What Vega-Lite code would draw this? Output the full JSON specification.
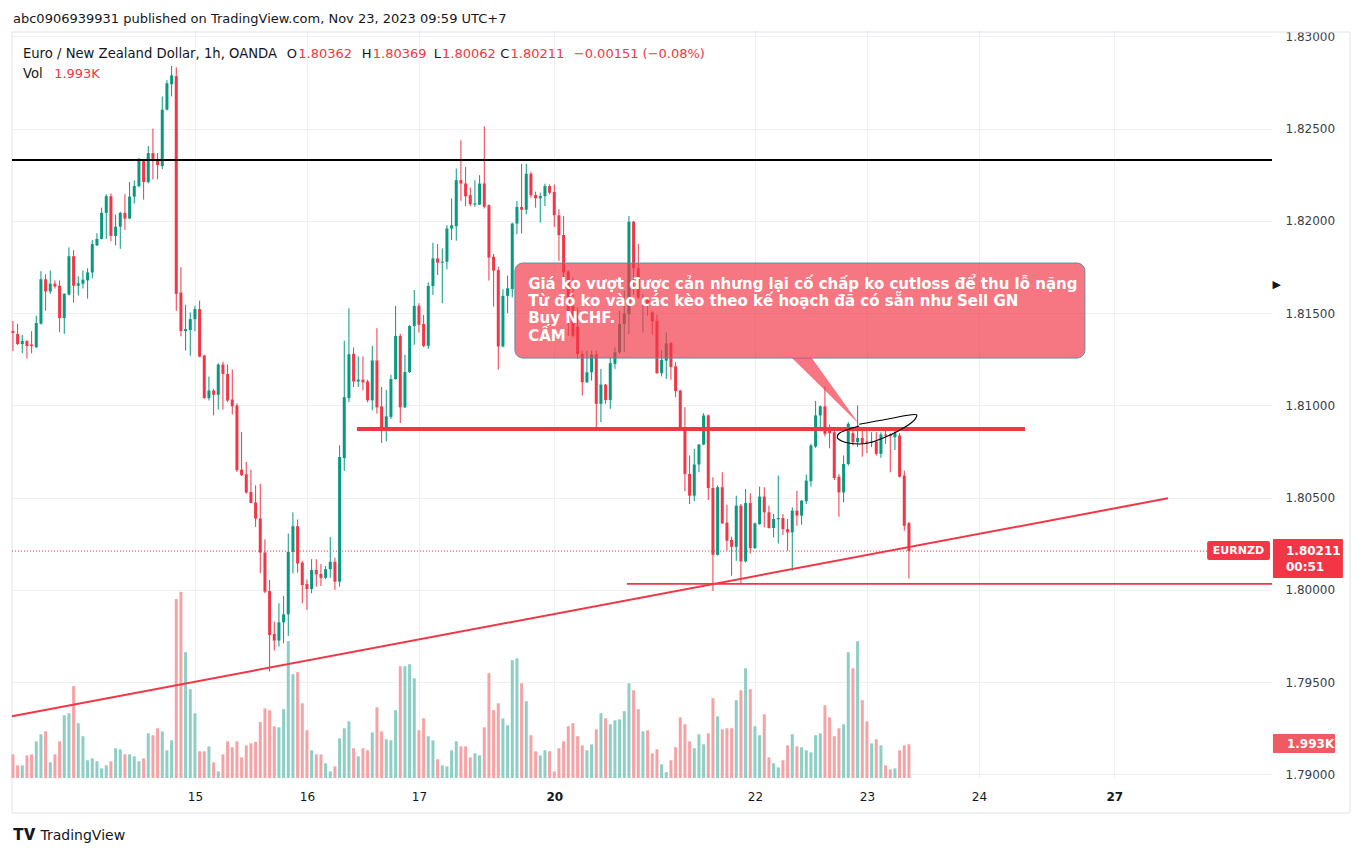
{
  "$schema": "https://vega.github.io/schema/vega-lite/v6.json",
  "width": 1260,
  "height": 748,
  "autosize": "none",
  "padding": {"left": 12, "top": 30, "right": 91, "bottom": 79},
  "background": "white",
  "config": {"view": {"stroke": null}, "font": "DejaVu Sans"},
  "title": {"text": "abc0906939931 published on TradingView.com, Nov 23, 2023 09:59 UTC+7", "anchor": "start", "frame": "group", "offset": 7, "baseline": "alphabetic", "font": "DejaVu Sans", "fontSize": 13, "fontWeight": "normal", "color": "#131722", "dx": 1, "dy": 13},
  "datasets": {
    "candles": [
      {"i":-39,"o":1.81403,"h":1.81458,"l":1.81294,"c":1.81393,"v":1.40},
      {"i":-38,"o":1.81388,"h":1.81443,"l":1.81327,"c":1.81333,"v":0.75},
      {"i":-37,"o":1.81333,"h":1.81382,"l":1.81283,"c":1.81349,"v":0.75},
      {"i":-36,"o":1.81349,"h":1.81355,"l":1.81254,"c":1.81322,"v":1.34},
      {"i":-35,"o":1.81330,"h":1.81403,"l":1.81283,"c":1.81322,"v":1.40},
      {"i":-34,"o":1.81316,"h":1.81487,"l":1.81312,"c":1.81447,"v":2.17},
      {"i":-33,"o":1.81443,"h":1.81728,"l":1.81439,"c":1.81684,"v":2.59},
      {"i":-32,"o":1.81684,"h":1.81711,"l":1.81513,"c":1.81618,"v":2.76},
      {"i":-31,"o":1.81618,"h":1.81732,"l":1.81605,"c":1.81660,"v":0.93},
      {"i":-30,"o":1.81660,"h":1.81678,"l":1.81634,"c":1.81645,"v":1.40},
      {"i":-29,"o":1.81649,"h":1.81678,"l":1.81397,"c":1.81474,"v":2.17},
      {"i":-28,"o":1.81474,"h":1.81608,"l":1.81388,"c":1.81605,"v":3.71},
      {"i":-27,"o":1.81601,"h":1.81857,"l":1.81596,"c":1.81809,"v":3.83},
      {"i":-26,"o":1.81809,"h":1.81842,"l":1.81557,"c":1.81649,"v":5.43},
      {"i":-25,"o":1.81649,"h":1.81700,"l":1.81596,"c":1.81662,"v":3.24},
      {"i":-24,"o":1.81660,"h":1.81732,"l":1.81634,"c":1.81682,"v":2.47},
      {"i":-23,"o":1.81678,"h":1.81743,"l":1.81579,"c":1.81721,"v":1.05},
      {"i":-22,"o":1.81721,"h":1.81897,"l":1.81689,"c":1.81875,"v":1.16},
      {"i":-21,"o":1.81868,"h":1.81934,"l":1.81864,"c":1.81903,"v":0.99},
      {"i":-20,"o":1.81903,"h":1.82072,"l":1.81900,"c":1.82044,"v":0.57},
      {"i":-19,"o":1.82044,"h":1.82145,"l":1.81903,"c":1.82134,"v":0.75},
      {"i":-18,"o":1.82134,"h":1.82149,"l":1.81890,"c":1.81919,"v":0.99},
      {"i":-17,"o":1.81919,"h":1.82035,"l":1.81868,"c":1.81969,"v":1.76},
      {"i":-16,"o":1.81969,"h":1.82050,"l":1.81849,"c":1.82044,"v":1.70},
      {"i":-15,"o":1.82044,"h":1.82145,"l":1.81952,"c":1.82013,"v":1.40},
      {"i":-14,"o":1.82013,"h":1.82211,"l":1.82010,"c":1.82132,"v":1.40},
      {"i":-13,"o":1.82132,"h":1.82219,"l":1.82094,"c":1.82189,"v":1.28},
      {"i":-12,"o":1.82189,"h":1.82342,"l":1.82182,"c":1.82325,"v":0.99},
      {"i":-11,"o":1.82325,"h":1.82329,"l":1.82116,"c":1.82211,"v":1.16},
      {"i":-10,"o":1.82211,"h":1.82406,"l":1.82204,"c":1.82368,"v":2.64},
      {"i":-9,"o":1.82368,"h":1.82500,"l":1.82226,"c":1.82325,"v":2.53},
      {"i":-8,"o":1.82329,"h":1.82368,"l":1.82226,"c":1.82303,"v":2.94},
      {"i":-7,"o":1.82298,"h":1.82675,"l":1.82281,"c":1.82603,"v":2.76},
      {"i":-6,"o":1.82603,"h":1.82763,"l":1.82599,"c":1.82746,"v":1.64},
      {"i":-5,"o":1.82741,"h":1.82840,"l":1.82675,"c":1.82789,"v":2.23},
      {"i":-4,"o":1.82785,"h":1.82833,"l":1.81513,"c":1.81605,"v":10.58},
      {"i":-3,"o":1.81612,"h":1.81750,"l":1.81375,"c":1.81403,"v":11.01},
      {"i":-2,"o":1.81403,"h":1.81546,"l":1.81297,"c":1.81414,"v":7.44},
      {"i":-1,"o":1.81409,"h":1.81504,"l":1.81270,"c":1.81468,"v":5.25},
      {"i":0,"o":1.81468,"h":1.81540,"l":1.81402,"c":1.81522,"v":3.83},
      {"i":1,"o":1.81522,"h":1.81568,"l":1.81261,"c":1.81265,"v":1.58},
      {"i":2,"o":1.81270,"h":1.81276,"l":1.81036,"c":1.81040,"v":1.58},
      {"i":3,"o":1.81040,"h":1.81157,"l":1.81027,"c":1.81081,"v":1.87},
      {"i":4,"o":1.81081,"h":1.81090,"l":1.80946,"c":1.81058,"v":0.93},
      {"i":5,"o":1.81058,"h":1.81229,"l":1.80978,"c":1.81222,"v":0.39},
      {"i":6,"o":1.81222,"h":1.81238,"l":1.80978,"c":1.81171,"v":1.40},
      {"i":7,"o":1.81171,"h":1.81222,"l":1.81018,"c":1.81027,"v":2.17},
      {"i":8,"o":1.81032,"h":1.81195,"l":1.80951,"c":1.80996,"v":1.82},
      {"i":9,"o":1.81000,"h":1.81012,"l":1.80640,"c":1.80649,"v":2.17},
      {"i":10,"o":1.80652,"h":1.80856,"l":1.80618,"c":1.80622,"v":1.22},
      {"i":11,"o":1.80627,"h":1.80694,"l":1.80522,"c":1.80528,"v":1.93},
      {"i":12,"o":1.80531,"h":1.80652,"l":1.80470,"c":1.80472,"v":2.05},
      {"i":13,"o":1.80474,"h":1.80567,"l":1.80342,"c":1.80387,"v":2.13},
      {"i":14,"o":1.80387,"h":1.80576,"l":1.80090,"c":1.80203,"v":3.32},
      {"i":15,"o":1.80203,"h":1.80274,"l":1.79982,"c":1.79991,"v":4.12},
      {"i":16,"o":1.79994,"h":1.80054,"l":1.79558,"c":1.79756,"v":4.01},
      {"i":17,"o":1.79762,"h":1.79829,"l":1.79672,"c":1.79726,"v":3.06},
      {"i":18,"o":1.79726,"h":1.79928,"l":1.79693,"c":1.79825,"v":3.00},
      {"i":19,"o":1.79825,"h":1.79967,"l":1.79711,"c":1.79868,"v":4.07},
      {"i":20,"o":1.79868,"h":1.80306,"l":1.79751,"c":1.80207,"v":8.09},
      {"i":21,"o":1.80207,"h":1.80420,"l":1.80090,"c":1.80346,"v":6.14},
      {"i":22,"o":1.80346,"h":1.80382,"l":1.80094,"c":1.80144,"v":6.26},
      {"i":23,"o":1.80148,"h":1.80158,"l":1.79928,"c":1.80027,"v":4.42},
      {"i":24,"o":1.80032,"h":1.80057,"l":1.79892,"c":1.80005,"v":2.82},
      {"i":25,"o":1.80005,"h":1.80167,"l":1.79982,"c":1.80108,"v":1.64},
      {"i":26,"o":1.80108,"h":1.80167,"l":1.80018,"c":1.80085,"v":1.40},
      {"i":27,"o":1.80087,"h":1.80140,"l":1.80021,"c":1.80066,"v":1.40},
      {"i":28,"o":1.80066,"h":1.80130,"l":1.80059,"c":1.80113,"v":0.87},
      {"i":29,"o":1.80113,"h":1.80288,"l":1.80066,"c":1.80153,"v":0.39},
      {"i":30,"o":1.80153,"h":1.80175,"l":1.80000,"c":1.80045,"v":0.69},
      {"i":31,"o":1.80045,"h":1.80784,"l":1.80018,"c":1.80721,"v":2.35},
      {"i":32,"o":1.80715,"h":1.81351,"l":1.80645,"c":1.81045,"v":2.94},
      {"i":33,"o":1.81040,"h":1.81527,"l":1.81018,"c":1.81278,"v":3.35},
      {"i":34,"o":1.81280,"h":1.81314,"l":1.81100,"c":1.81130,"v":1.76},
      {"i":35,"o":1.81130,"h":1.81266,"l":1.81100,"c":1.81140,"v":1.28},
      {"i":36,"o":1.81140,"h":1.81266,"l":1.81082,"c":1.81125,"v":1.76},
      {"i":37,"o":1.81130,"h":1.81140,"l":1.81017,"c":1.81028,"v":1.64},
      {"i":38,"o":1.81028,"h":1.81323,"l":1.80974,"c":1.81244,"v":2.70},
      {"i":39,"o":1.81244,"h":1.81419,"l":1.80956,"c":1.80990,"v":4.18},
      {"i":40,"o":1.80995,"h":1.81100,"l":1.80797,"c":1.80866,"v":2.76},
      {"i":41,"o":1.80866,"h":1.81085,"l":1.80806,"c":1.80941,"v":2.29},
      {"i":42,"o":1.80938,"h":1.81167,"l":1.80927,"c":1.81143,"v":2.23},
      {"i":43,"o":1.81143,"h":1.81540,"l":1.81140,"c":1.81377,"v":4.01},
      {"i":44,"o":1.81377,"h":1.81388,"l":1.80905,"c":1.80990,"v":6.61},
      {"i":45,"o":1.80990,"h":1.81275,"l":1.80986,"c":1.81181,"v":6.61},
      {"i":46,"o":1.81181,"h":1.81436,"l":1.81176,"c":1.81431,"v":6.73},
      {"i":47,"o":1.81431,"h":1.81626,"l":1.81329,"c":1.81540,"v":5.90},
      {"i":48,"o":1.81540,"h":1.81554,"l":1.81395,"c":1.81437,"v":2.82},
      {"i":49,"o":1.81442,"h":1.81491,"l":1.81316,"c":1.81323,"v":3.53},
      {"i":50,"o":1.81323,"h":1.81667,"l":1.81307,"c":1.81648,"v":2.47},
      {"i":51,"o":1.81647,"h":1.81882,"l":1.81599,"c":1.81797,"v":2.23},
      {"i":52,"o":1.81797,"h":1.81875,"l":1.81707,"c":1.81774,"v":1.11},
      {"i":53,"o":1.81774,"h":1.81851,"l":1.81554,"c":1.81780,"v":0.75},
      {"i":54,"o":1.81779,"h":1.81977,"l":1.81738,"c":1.81959,"v":0.69},
      {"i":55,"o":1.81959,"h":1.82122,"l":1.81896,"c":1.81977,"v":1.64},
      {"i":56,"o":1.81972,"h":1.82284,"l":1.81893,"c":1.82221,"v":2.17},
      {"i":57,"o":1.82221,"h":1.82437,"l":1.82109,"c":1.82203,"v":1.87},
      {"i":58,"o":1.82203,"h":1.82293,"l":1.82080,"c":1.82134,"v":1.87},
      {"i":59,"o":1.82140,"h":1.82181,"l":1.82080,"c":1.82091,"v":1.22},
      {"i":60,"o":1.82089,"h":1.82221,"l":1.82077,"c":1.82095,"v":1.46},
      {"i":61,"o":1.82089,"h":1.82248,"l":1.82086,"c":1.82203,"v":1.34},
      {"i":62,"o":1.82203,"h":1.82513,"l":1.82068,"c":1.82077,"v":3.00},
      {"i":63,"o":1.82086,"h":1.82089,"l":1.81677,"c":1.81801,"v":6.20},
      {"i":64,"o":1.81806,"h":1.81821,"l":1.81536,"c":1.81731,"v":4.01},
      {"i":65,"o":1.81734,"h":1.81752,"l":1.81194,"c":1.81320,"v":4.42},
      {"i":66,"o":1.81320,"h":1.81630,"l":1.81315,"c":1.81594,"v":3.53},
      {"i":67,"o":1.81594,"h":1.81704,"l":1.81500,"c":1.81635,"v":3.12},
      {"i":68,"o":1.81631,"h":1.81991,"l":1.81586,"c":1.81986,"v":6.97},
      {"i":69,"o":1.81986,"h":1.82108,"l":1.81928,"c":1.82076,"v":7.08},
      {"i":70,"o":1.82076,"h":1.82310,"l":1.81932,"c":1.82061,"v":5.60},
      {"i":71,"o":1.82061,"h":1.82310,"l":1.82036,"c":1.82256,"v":4.54},
      {"i":72,"o":1.82256,"h":1.82267,"l":1.82126,"c":1.82139,"v":2.53},
      {"i":73,"o":1.82141,"h":1.82159,"l":1.82072,"c":1.82123,"v":1.58},
      {"i":74,"o":1.82123,"h":1.82153,"l":1.81991,"c":1.82135,"v":1.34},
      {"i":75,"o":1.82135,"h":1.82202,"l":1.82081,"c":1.82189,"v":1.64},
      {"i":76,"o":1.82189,"h":1.82198,"l":1.82144,"c":1.82153,"v":1.58},
      {"i":77,"o":1.82157,"h":1.82198,"l":1.81968,"c":1.82031,"v":0.39},
      {"i":78,"o":1.82031,"h":1.82063,"l":1.81784,"c":1.81923,"v":1.76},
      {"i":79,"o":1.81924,"h":1.82027,"l":1.81694,"c":1.81721,"v":2.17},
      {"i":80,"o":1.81726,"h":1.81733,"l":1.81378,"c":1.81477,"v":3.06},
      {"i":81,"o":1.81540,"h":1.81694,"l":1.81369,"c":1.81378,"v":3.24},
      {"i":82,"o":1.81427,"h":1.81531,"l":1.81252,"c":1.81279,"v":2.47},
      {"i":83,"o":1.81279,"h":1.81297,"l":1.81054,"c":1.81126,"v":1.93},
      {"i":84,"o":1.81126,"h":1.81297,"l":1.81122,"c":1.81180,"v":1.64},
      {"i":85,"o":1.81180,"h":1.81297,"l":1.81135,"c":1.81276,"v":1.99},
      {"i":86,"o":1.81276,"h":1.81297,"l":1.80883,"c":1.81009,"v":2.88},
      {"i":87,"o":1.81009,"h":1.81198,"l":1.80910,"c":1.81113,"v":3.83},
      {"i":88,"o":1.81113,"h":1.81117,"l":1.81009,"c":1.81030,"v":3.53},
      {"i":89,"o":1.81030,"h":1.81261,"l":1.80982,"c":1.81229,"v":3.18},
      {"i":90,"o":1.81225,"h":1.81315,"l":1.81198,"c":1.81288,"v":3.41},
      {"i":91,"o":1.81288,"h":1.81513,"l":1.81279,"c":1.81441,"v":3.47},
      {"i":92,"o":1.81441,"h":1.81622,"l":1.81288,"c":1.81499,"v":3.95},
      {"i":93,"o":1.81495,"h":1.82027,"l":1.81387,"c":1.81996,"v":5.60},
      {"i":94,"o":1.81996,"h":1.82000,"l":1.81600,"c":1.81744,"v":5.19},
      {"i":95,"o":1.81744,"h":1.81877,"l":1.81577,"c":1.81586,"v":4.07},
      {"i":96,"o":1.81559,"h":1.81604,"l":1.81396,"c":1.81577,"v":2.76},
      {"i":97,"o":1.81571,"h":1.81586,"l":1.81486,"c":1.81546,"v":2.82},
      {"i":98,"o":1.81505,"h":1.81513,"l":1.81384,"c":1.81456,"v":1.46},
      {"i":99,"o":1.81459,"h":1.81492,"l":1.81172,"c":1.81175,"v":1.70},
      {"i":100,"o":1.81175,"h":1.81301,"l":1.81157,"c":1.81247,"v":0.81},
      {"i":101,"o":1.81243,"h":1.81396,"l":1.81144,"c":1.81337,"v":0.34},
      {"i":102,"o":1.81338,"h":1.81344,"l":1.81139,"c":1.81208,"v":1.05},
      {"i":103,"o":1.81212,"h":1.81235,"l":1.81045,"c":1.81078,"v":1.82},
      {"i":104,"o":1.81081,"h":1.81085,"l":1.80870,"c":1.80873,"v":3.59},
      {"i":105,"o":1.80873,"h":1.80991,"l":1.80535,"c":1.80629,"v":3.18},
      {"i":106,"o":1.80629,"h":1.80729,"l":1.80466,"c":1.80511,"v":2.17},
      {"i":107,"o":1.80511,"h":1.80765,"l":1.80481,"c":1.80680,"v":1.76},
      {"i":108,"o":1.80680,"h":1.80792,"l":1.80638,"c":1.80788,"v":2.59},
      {"i":109,"o":1.80788,"h":1.80958,"l":1.80785,"c":1.80946,"v":1.99},
      {"i":110,"o":1.80946,"h":1.80951,"l":1.80488,"c":1.80553,"v":2.64},
      {"i":111,"o":1.80553,"h":1.80611,"l":1.79995,"c":1.80191,"v":4.72},
      {"i":112,"o":1.80191,"h":1.80566,"l":1.80186,"c":1.80557,"v":3.65},
      {"i":113,"o":1.80557,"h":1.80638,"l":1.80358,"c":1.80361,"v":2.88},
      {"i":114,"o":1.80365,"h":1.80462,"l":1.80213,"c":1.80267,"v":2.94},
      {"i":115,"o":1.80271,"h":1.80289,"l":1.80077,"c":1.80234,"v":2.94},
      {"i":116,"o":1.80234,"h":1.80511,"l":1.80158,"c":1.80457,"v":4.60},
      {"i":117,"o":1.80457,"h":1.80466,"l":1.80032,"c":1.80155,"v":5.19},
      {"i":118,"o":1.80155,"h":1.80548,"l":1.80149,"c":1.80471,"v":6.49},
      {"i":119,"o":1.80471,"h":1.80524,"l":1.80198,"c":1.80227,"v":5.25},
      {"i":120,"o":1.80227,"h":1.80365,"l":1.80222,"c":1.80361,"v":3.06},
      {"i":121,"o":1.80357,"h":1.80560,"l":1.80354,"c":1.80506,"v":2.53},
      {"i":122,"o":1.80506,"h":1.80557,"l":1.80339,"c":1.80421,"v":3.77},
      {"i":123,"o":1.80421,"h":1.80457,"l":1.80333,"c":1.80336,"v":1.22},
      {"i":124,"o":1.80336,"h":1.80412,"l":1.80285,"c":1.80385,"v":0.87},
      {"i":125,"o":1.80383,"h":1.80620,"l":1.80252,"c":1.80390,"v":0.63},
      {"i":126,"o":1.80390,"h":1.80412,"l":1.80298,"c":1.80330,"v":1.05},
      {"i":127,"o":1.80330,"h":1.80385,"l":1.80213,"c":1.80312,"v":1.93},
      {"i":128,"o":1.80312,"h":1.80448,"l":1.80104,"c":1.80430,"v":2.59},
      {"i":129,"o":1.80430,"h":1.80538,"l":1.80348,"c":1.80403,"v":1.87},
      {"i":130,"o":1.80403,"h":1.80488,"l":1.80354,"c":1.80484,"v":1.82},
      {"i":131,"o":1.80481,"h":1.80625,"l":1.80466,"c":1.80593,"v":1.64},
      {"i":132,"o":1.80589,"h":1.80792,"l":1.80560,"c":1.80783,"v":1.52},
      {"i":133,"o":1.80777,"h":1.81024,"l":1.80770,"c":1.80946,"v":2.53},
      {"i":134,"o":1.80946,"h":1.81000,"l":1.80882,"c":1.80995,"v":2.64},
      {"i":135,"o":1.80995,"h":1.81103,"l":1.80832,"c":1.80846,"v":4.30},
      {"i":136,"o":1.80864,"h":1.80897,"l":1.80768,"c":1.80850,"v":3.59},
      {"i":137,"o":1.80855,"h":1.80864,"l":1.80596,"c":1.80607,"v":2.47},
      {"i":138,"o":1.80614,"h":1.80629,"l":1.80397,"c":1.80529,"v":2.94},
      {"i":139,"o":1.80529,"h":1.80729,"l":1.80475,"c":1.80683,"v":3.18},
      {"i":140,"o":1.80683,"h":1.80910,"l":1.80674,"c":1.80900,"v":7.44},
      {"i":141,"o":1.80850,"h":1.80882,"l":1.80783,"c":1.80801,"v":6.49},
      {"i":142,"o":1.80801,"h":1.81000,"l":1.80774,"c":1.80824,"v":8.09},
      {"i":143,"o":1.80824,"h":1.80868,"l":1.80723,"c":1.80795,"v":4.60},
      {"i":144,"o":1.80805,"h":1.80864,"l":1.80741,"c":1.80798,"v":3.35},
      {"i":145,"o":1.80798,"h":1.80855,"l":1.80774,"c":1.80805,"v":2.05},
      {"i":146,"o":1.80805,"h":1.80855,"l":1.80729,"c":1.80738,"v":2.29},
      {"i":147,"o":1.80738,"h":1.80855,"l":1.80716,"c":1.80843,"v":1.93},
      {"i":148,"o":1.80843,"h":1.80864,"l":1.80792,"c":1.80836,"v":0.75},
      {"i":149,"o":1.80841,"h":1.80850,"l":1.80638,"c":1.80834,"v":0.51},
      {"i":150,"o":1.80828,"h":1.80873,"l":1.80759,"c":1.80850,"v":0.57},
      {"i":151,"o":1.80837,"h":1.80850,"l":1.80610,"c":1.80614,"v":1.64},
      {"i":152,"o":1.80620,"h":1.80647,"l":1.80321,"c":1.80348,"v":1.93},
      {"i":153,"o":1.80362,"h":1.80369,"l":1.80062,"c":1.80211,"v":1.993}
    ],
    "blackline": [{"i": -39.2, "i2": 230.8, "p": 1.82331}],
    "resline": [{"i": 34.71, "i2": 177.86, "p": 1.80873}],
    "supline": [{"i": 92.57, "i2": 230.8, "p": 1.80033}],
    "lastline": [{"i": -39.2, "i2": 230.8, "p": 1.80211}],
    "trend": [{"i": -39.2, "p": 1.79316, "i2": 208.5, "p2": 1.80497}],
    "callout": [{"i": 68.57, "i2": 190.71, "p": 1.81772, "p2": 1.81257}],
    "pointer": [
      {"i": 127.93, "p": 1.81257, "p2": 1.81257},
      {"i": 132.2, "p": 1.81257, "p2": 1.81151},
      {"i": 142.3, "p": 1.80900, "p2": 1.80900}
    ],
    "curve": [
      {"k": 1, "i": 142.35, "p": 1.808981},
      {"k": 2, "i": 148.22, "p": 1.809252},
      {"k": 3, "i": 154.65, "p": 1.809485},
      {"k": 4, "i": 154.29, "p": 1.809252},
      {"k": 5, "i": 152.85, "p": 1.808943},
      {"k": 6, "i": 150.71, "p": 1.808618},
      {"k": 7, "i": 147.86, "p": 1.808276},
      {"k": 8, "i": 145.01, "p": 1.808005},
      {"k": 9, "i": 142.5, "p": 1.807913},
      {"k": 10, "i": 140.36, "p": 1.807951},
      {"k": 11, "i": 138.58, "p": 1.808076},
      {"k": 12, "i": 137.64, "p": 1.808276},
      {"k": 13, "i": 138.07, "p": 1.808493},
      {"k": 14, "i": 139.65, "p": 1.808672},
      {"k": 15, "i": 142.35, "p": 1.808889}
    ],
    "note": [
      {"t": "Giá ko vượt được cản nhưng lại cố chấp ko cutloss để thu lỗ nặng", "i": 71.4, "p": 1.816558},
      {"t": "Từ đó ko vào các kèo theo kế hoạch đã có sẵn như Sell GN", "i": 71.4, "p": 1.815648},
      {"t": "Buy NCHF.", "i": 71.4, "p": 1.814748},
      {"t": "CẤM", "i": 71.4, "p": 1.813778}
    ],
    "symtag": [{"i": 216.9, "i2": 230.36, "p": 1.80266, "p2": 1.80163}],
    "symtext": [{"t": "EURNZD", "i": 223.6, "p": 1.80213}],
    "pricetag": [{"i": 231.0, "i2": 246.0, "p": 1.80276, "p2": 1.80065}],
    "pricetext": [
      {"t": "1.80211", "i": 233.8, "p": 1.80211},
      {"t": "00:51", "i": 233.8, "p": 1.80125}
    ],
    "voltag": [{"i": 231.0, "i2": 244.3, "p": 1.79220, "p2": 1.79117}],
    "voltext": [{"t": "1.993K", "i": 234.0, "p": 1.79167}],
    "arrow": [{"t": "▶", "i": 230.9, "p": 1.81653}],
    "legendname": [
      {"t": "Euro / New Zealand Dollar, 1h, OANDA", "i": -36.86, "p": 1.829051},
      {"t": "Vol", "i": -36.86, "p": 1.827967}
    ],
    "legendletters": [
      {"t": "O", "i": 21.86, "p": 1.829051},
      {"t": "H", "i": 37.82, "p": 1.829051},
      {"t": "L", "i": 52.72, "p": 1.829051},
      {"t": "C", "i": 67.39, "p": 1.829051}
    ],
    "legendvalues": [
      {"t": "1.80362", "i": 22.16, "p": 1.829051},
      {"t": "1.80369", "i": 38.10, "p": 1.829051},
      {"t": "1.80062", "i": 52.95, "p": 1.829051},
      {"t": "1.80211", "i": 67.63, "p": 1.829051},
      {"t": "−0.00151 (−0.08%)", "i": 81.19, "p": 1.829051},
      {"t": "1.993K", "i": -30.17, "p": 1.827967}
    ],
    "frame": [
      {"i": -39.2, "i2": 247.5, "p": 1.83024, "p2": 1.83024},
      {"i": -39.2, "i2": 247.5, "p": 1.78791, "p2": 1.78791},
      {"i": -39.2, "i2": -39.2, "p": 1.83024, "p2": 1.78791},
      {"i": 247.5, "i2": 247.5, "p": 1.83024, "p2": 1.78791}
    ],
    "logo": [{"t": "TV", "i": -38.96, "p": 1.78672}]
  },
  "encoding": {
    "x": {"field": "i", "type": "quantitative", "scale": {"domain": [-39.2, 230.8], "nice": false, "zero": false, "padding": 0},
      "axis": {"values": [0, 24, 48, 77, 120, 144, 168, 197],
        "labelExpr": "datum.value == 0 ? '15' : datum.value == 24 ? '16' : datum.value == 48 ? '17' : datum.value == 77 ? '20' : datum.value == 120 ? '22' : datum.value == 144 ? '23' : datum.value == 168 ? '24' : '27'",
        "grid": true, "gridColor": "#eef0f3", "domain": false, "ticks": false, "tickSize": 0,
        "labelPadding": 18, "labelBaseline": "middle", "labelFont": "DejaVu Sans", "labelFontSize": 12, "labelColor": "#131722",
        "labelFontWeight": {"expr": "datum.value == 77 || datum.value == 197 ? 'bold' : 'normal'"},
        "labelOverlap": false, "labelFlush": false,
        "title": "TradingView", "titleAnchor": "start", "titleAlign": "left", "titleX": 28, "titleY": 57, "titleBaseline": "middle",
        "titleFont": "DejaVu Sans", "titleFontSize": 14, "titleFontWeight": "normal", "titleColor": "#131722"}}
  },
  "layer": [
    {
      "data": {"name": "frame"},
      "mark": {"type": "rule", "color": "#e0e3eb", "strokeWidth": 1},
      "encoding": {
        "x2": {"field": "i2"},
        "y": {"field": "p", "type": "quantitative", "scale": {"domain": [1.78981, 1.83035], "nice": false, "zero": false, "padding": 0}, "axis": null},
        "y2": {"field": "p2"}
      }
    },
    {
      "data": {"name": "candles"},
      "mark": {"type": "bar", "size": 3},
      "encoding": {
        "y": {"field": "v", "type": "quantitative", "scale": {"domain": [0, 44.24], "nice": false, "zero": false, "padding": 0}, "axis": null},
        "y2": {"datum": 0},
        "color": {"condition": {"test": "datum.c >= datum.o", "value": "#8dcfc5"}, "value": "#f6a3a6"}
      }
    },
    {
      "data": {"name": "candles"},
      "mark": {"type": "rule", "strokeWidth": 1},
      "encoding": {
        "y": {"field": "l", "type": "quantitative", "scale": {"domain": [1.78981, 1.83035], "nice": false, "zero": false, "padding": 0},
          "axis": {"orient": "right", "values": [1.79, 1.795, 1.8, 1.805, 1.81, 1.815, 1.82, 1.825, 1.83], "format": ".5f",
            "grid": true, "gridColor": "#eef0f3", "domain": false, "ticks": false, "labelPadding": 13,
            "labelFont": "DejaVu Sans", "labelFontSize": 12, "labelColor": "#3a3e48", "title": null}},
        "y2": {"field": "h"},
        "color": {"condition": {"test": "datum.c >= datum.o", "value": "#089981"}, "value": "#f23645"}
      }
    },
    {
      "data": {"name": "candles"},
      "mark": {"type": "bar", "size": 3},
      "encoding": {
        "y": {"field": "o", "type": "quantitative", "scale": {"domain": [1.78981, 1.83035], "nice": false, "zero": false, "padding": 0}, "axis": null},
        "y2": {"field": "c"},
        "color": {"condition": {"test": "datum.c >= datum.o", "value": "#089981"}, "value": "#f23645"}
      }
    },
    {
      "data": {"name": "lastline"},
      "mark": {"type": "rule", "color": "#f23645", "strokeWidth": 1, "strokeDash": [1, 2]},
      "encoding": {
        "x2": {"field": "i2"},
        "y": {"field": "p", "type": "quantitative", "scale": {"domain": [1.78981, 1.83035], "nice": false, "zero": false, "padding": 0}, "axis": null}
      }
    },
    {
      "data": {"name": "blackline"},
      "mark": {"type": "rule", "color": "#000000", "strokeWidth": 2},
      "encoding": {
        "x2": {"field": "i2"},
        "y": {"field": "p", "type": "quantitative", "scale": {"domain": [1.78981, 1.83035], "nice": false, "zero": false, "padding": 0}, "axis": null}
      }
    },
    {
      "data": {"name": "resline"},
      "mark": {"type": "rule", "color": "#f23645", "strokeWidth": 4},
      "encoding": {
        "x2": {"field": "i2"},
        "y": {"field": "p", "type": "quantitative", "scale": {"domain": [1.78981, 1.83035], "nice": false, "zero": false, "padding": 0}, "axis": null}
      }
    },
    {
      "data": {"name": "supline"},
      "mark": {"type": "rule", "color": "#f23645", "strokeWidth": 1.7},
      "encoding": {
        "x2": {"field": "i2"},
        "y": {"field": "p", "type": "quantitative", "scale": {"domain": [1.78981, 1.83035], "nice": false, "zero": false, "padding": 0}, "axis": null}
      }
    },
    {
      "data": {"name": "trend"},
      "mark": {"type": "rule", "color": "#f23645", "strokeWidth": 2},
      "encoding": {
        "x2": {"field": "i2"},
        "y": {"field": "p", "type": "quantitative", "scale": {"domain": [1.78981, 1.83035], "nice": false, "zero": false, "padding": 0}, "axis": null},
        "y2": {"field": "p2"}
      }
    },
    {
      "data": {"name": "curve"},
      "mark": {"type": "line", "color": "#000000", "strokeWidth": 1.2, "interpolate": "catmull-rom"},
      "encoding": {
        "y": {"field": "p", "type": "quantitative", "scale": {"domain": [1.78981, 1.83035], "nice": false, "zero": false, "padding": 0}, "axis": null},
        "order": {"field": "k"}
      }
    },
    {
      "data": {"name": "callout"},
      "mark": {"type": "rect", "fill": "#f23645", "fillOpacity": 0.68, "stroke": "#5b8fa6", "strokeWidth": 1, "cornerRadius": 8},
      "encoding": {
        "x2": {"field": "i2"},
        "y": {"field": "p", "type": "quantitative", "scale": {"domain": [1.78981, 1.83035], "nice": false, "zero": false, "padding": 0}, "axis": null},
        "y2": {"field": "p2"}
      }
    },
    {
      "data": {"name": "pointer"},
      "mark": {"type": "area", "color": "#f23645", "fillOpacity": 0.68},
      "encoding": {
        "y": {"field": "p", "type": "quantitative", "scale": {"domain": [1.78981, 1.83035], "nice": false, "zero": false, "padding": 0}, "axis": null},
        "y2": {"field": "p2"}
      }
    },
    {
      "data": {"name": "note"},
      "mark": {"type": "text", "align": "left", "baseline": "middle", "font": "DejaVu Sans", "fontSize": 15, "fontWeight": "bold", "color": "#ffffff"},
      "encoding": {
        "y": {"field": "p", "type": "quantitative", "scale": {"domain": [1.78981, 1.83035], "nice": false, "zero": false, "padding": 0}, "axis": null},
        "text": {"field": "t"}
      }
    },
    {
      "data": {"name": "symtag"},
      "mark": {"type": "rect", "color": "#f23645", "cornerRadius": 2},
      "encoding": {
        "x2": {"field": "i2"},
        "y": {"field": "p", "type": "quantitative", "scale": {"domain": [1.78981, 1.83035], "nice": false, "zero": false, "padding": 0}, "axis": null},
        "y2": {"field": "p2"}
      }
    },
    {
      "data": {"name": "symtext"},
      "mark": {"type": "text", "align": "center", "baseline": "middle", "font": "DejaVu Sans", "fontSize": 11, "fontWeight": "bold", "color": "#ffffff"},
      "encoding": {
        "y": {"field": "p", "type": "quantitative", "scale": {"domain": [1.78981, 1.83035], "nice": false, "zero": false, "padding": 0}, "axis": null},
        "text": {"field": "t"}
      }
    },
    {
      "data": {"name": "pricetag"},
      "mark": {"type": "rect", "color": "#f23645", "cornerRadius": 1},
      "encoding": {
        "x2": {"field": "i2"},
        "y": {"field": "p", "type": "quantitative", "scale": {"domain": [1.78981, 1.83035], "nice": false, "zero": false, "padding": 0}, "axis": null},
        "y2": {"field": "p2"}
      }
    },
    {
      "data": {"name": "pricetext"},
      "mark": {"type": "text", "align": "left", "baseline": "middle", "font": "DejaVu Sans", "fontSize": 12, "fontWeight": "bold", "color": "#ffffff"},
      "encoding": {
        "y": {"field": "p", "type": "quantitative", "scale": {"domain": [1.78981, 1.83035], "nice": false, "zero": false, "padding": 0}, "axis": null},
        "text": {"field": "t"}
      }
    },
    {
      "data": {"name": "voltag"},
      "mark": {"type": "rect", "color": "#f05a62", "cornerRadius": 1},
      "encoding": {
        "x2": {"field": "i2"},
        "y": {"field": "p", "type": "quantitative", "scale": {"domain": [1.78981, 1.83035], "nice": false, "zero": false, "padding": 0}, "axis": null},
        "y2": {"field": "p2"}
      }
    },
    {
      "data": {"name": "voltext"},
      "mark": {"type": "text", "align": "left", "baseline": "middle", "font": "DejaVu Sans", "fontSize": 12, "fontWeight": "bold", "color": "#ffffff"},
      "encoding": {
        "y": {"field": "p", "type": "quantitative", "scale": {"domain": [1.78981, 1.83035], "nice": false, "zero": false, "padding": 0}, "axis": null},
        "text": {"field": "t"}
      }
    },
    {
      "data": {"name": "arrow"},
      "mark": {"type": "text", "align": "left", "baseline": "middle", "font": "DejaVu Sans", "fontSize": 11, "color": "#131722"},
      "encoding": {
        "y": {"field": "p", "type": "quantitative", "scale": {"domain": [1.78981, 1.83035], "nice": false, "zero": false, "padding": 0}, "axis": null},
        "text": {"field": "t"}
      }
    },
    {
      "data": {"name": "legendname"},
      "mark": {"type": "text", "align": "left", "baseline": "middle", "font": "DejaVu Sans", "fontSize": 13.2, "color": "#131722"},
      "encoding": {
        "y": {"field": "p", "type": "quantitative", "scale": {"domain": [1.78981, 1.83035], "nice": false, "zero": false, "padding": 0}, "axis": null},
        "text": {"field": "t"}
      }
    },
    {
      "data": {"name": "legendletters"},
      "mark": {"type": "text", "align": "right", "baseline": "middle", "font": "DejaVu Sans", "fontSize": 13, "color": "#131722"},
      "encoding": {
        "y": {"field": "p", "type": "quantitative", "scale": {"domain": [1.78981, 1.83035], "nice": false, "zero": false, "padding": 0}, "axis": null},
        "text": {"field": "t"}
      }
    },
    {
      "data": {"name": "legendvalues"},
      "mark": {"type": "text", "align": "left", "baseline": "middle", "font": "DejaVu Sans", "fontSize": 13, "color": "#f23645"},
      "encoding": {
        "y": {"field": "p", "type": "quantitative", "scale": {"domain": [1.78981, 1.83035], "nice": false, "zero": false, "padding": 0}, "axis": null},
        "text": {"field": "t"}
      }
    },
    {
      "data": {"name": "logo"},
      "mark": {"type": "text", "align": "left", "baseline": "middle", "font": "Roboto", "fontSize": 17, "fontWeight": 900, "color": "#131722"},
      "encoding": {
        "y": {"field": "p", "type": "quantitative", "scale": {"domain": [1.78981, 1.83035], "nice": false, "zero": false, "padding": 0}, "axis": null},
        "text": {"field": "t"}
      }
    }
  ],
  "resolve": {"scale": {"y": "independent"}}
}
